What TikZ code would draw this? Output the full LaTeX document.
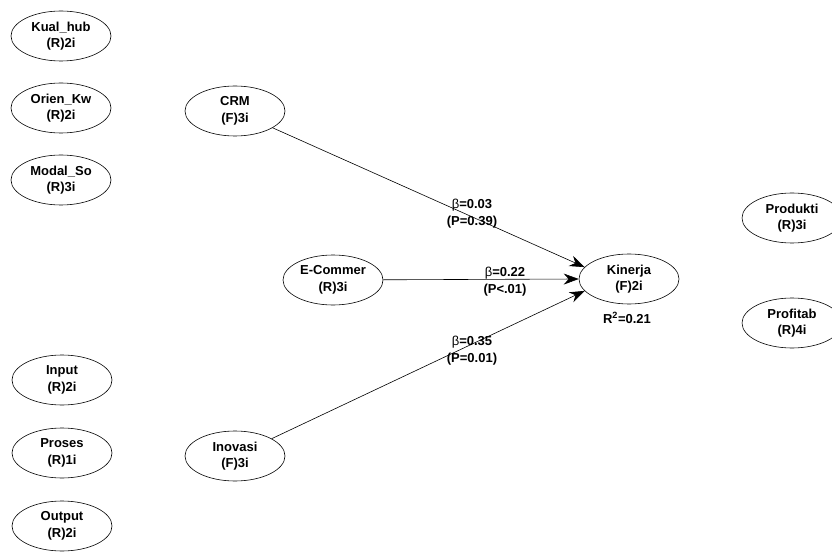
\documentclass[tikz,border=0pt]{standalone}
\usepackage{fontspec}
\setmainfont{Liberation Sans}
\usetikzlibrary{shapes.geometric,arrows.meta}
\begin{document}
\begin{tikzpicture}[x=1pt,y=-1pt,
  lv/.style={ellipse,draw=black,line width=0.6pt,minimum width=100pt,minimum height=50pt,inner sep=0pt,align=center,font=\fontsize{13}{16.5}\selectfont\bfseries},
  lbl/.style={align=center,inner sep=0pt,font=\fontsize{13}{17}\selectfont\bfseries},
  link/.style={draw=black,line width=0.6pt,-{Stealth[length=15pt,width=11pt,inset=5pt]}}]
\useasboundingbox[fill=white] (0,0) rectangle (832,553);
\node[lv] (kual) at (61,36) {Kual\_hub\\(R)2i};
\node[lv] (orien) at (61,108) {Orien\_Kw\\(R)2i};
\node[lv] (modal) at (61,180) {Modal\_So\\(R)3i};
\node[lv] (input) at (62,380) {Input\\(R)2i};
\node[lv] (proses) at (62,453) {Proses\\(R)1i};
\node[lv] (output) at (62,526) {Output\\(R)2i};
\node[lv] (crm) at (235,111) {CRM\\(F)3i};
\node[lv] (ecom) at (333,280) {E-Commer\\(R)3i};
\node[lv] (inov) at (235,456) {Inovasi\\(F)3i};
\node[lv] (kin) at (629,279) {Kinerja\\(F)2i};
\node[lv] (prod) at (792,218) {Produkti\\(R)3i};
\node[lv] (prof) at (792,323) {Profitab\\(R)4i};
\draw[link] (crm) -- (kin.165);
\draw[link] (ecom) -- (kin.west);
\draw[link] (inov) -- (kin.195);
\node[lbl] (l1) at (472,214) {{\mdseries β}=0.03\\(P=0.39)};
\node[lbl] (l2) at (505,282) {{\mdseries β}=0.22\\(P<.01)};
\node[lbl] (l3) at (472,351) {{\mdseries β}=0.35\\(P=0.01)};
\node[lbl] (r2) at (627,318) {R\textsuperscript{2}=0.21};
\end{tikzpicture}
\end{document}
